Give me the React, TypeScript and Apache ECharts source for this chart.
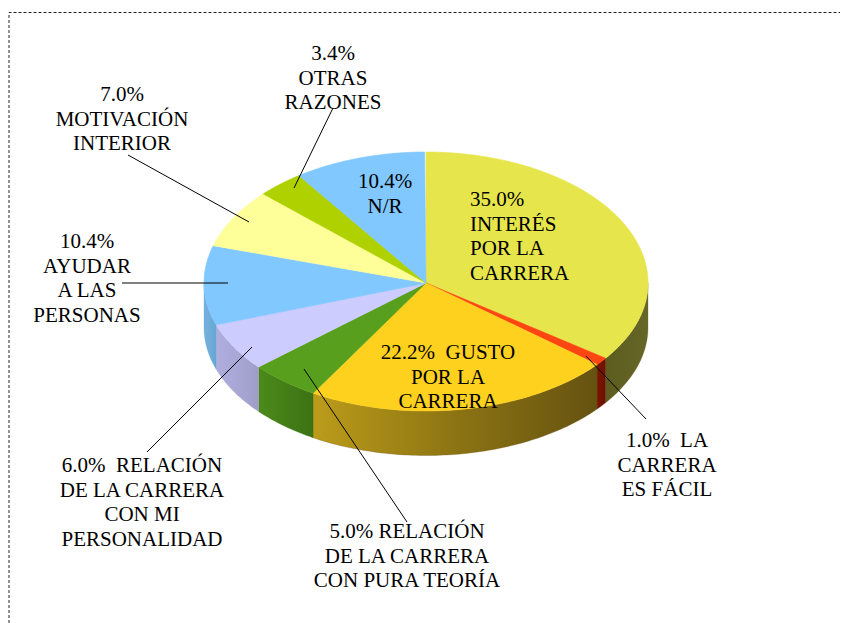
import React, { useEffect, useRef } from "react";
import * as echarts from "echarts";

const categories = [
  "INTERÉS POR LA CARRERA",
  "LA CARRERA ES FÁCIL",
  "GUSTO POR LA CARRERA",
  "RELACIÓN DE LA CARRERA CON PURA TEORÍA",
  "RELACIÓN DE LA CARRERA CON MI PERSONALIDAD",
  "AYUDAR A LAS PERSONAS",
  "MOTIVACIÓN INTERIOR",
  "OTRAS RAZONES",
  "N/R",
];
// Percentages as printed on the labels (they add up to 100.4).
const printedValues = [35.0, 1.0, 22.2, 5.0, 6.0, 10.4, 7.0, 3.4, 10.4];
// Share of the circle each slice covers, as measured on the picture (adds up to 100).
const sliceShares = [35.0, 1.0, 22.5, 5.1, 6.1, 9.9, 7.3, 3.4, 9.6];
const topColors = ["#E6E64C", "#FF4612", "#FFD11F", "#579F1D", "#CCCCFF", "#80C8FF", "#FFFF99", "#AFD100", "#80C8FF"];
const sideColors = [
  ["#5C5C1E", "#666628"],
  ["#7A1500", "#6A1200"],
  ["#BC9C1A", "#8C7413", "#655210"],
  ["#4C8A1A", "#3C7214"],
  ["#B0AEE0", "#A09EC8"],
  ["#74B2E0", "#68A6D2"],
  ["#CCCC7A", "#CCCC7A"],
  ["#8CA700", "#8CA700"],
  ["#66A0CC", "#66A0CC"],
];

// Text around the percentage: first line suffix, then the other lines.
const labelFirst = ["", "  LA", "  GUSTO", " RELACIÓN", "  RELACIÓN", "", "", "", ""];
const labelRest = [
  ["INTERÉS", "POR LA", "CARRERA"],
  ["CARRERA", "ES FÁCIL"],
  ["POR LA", "CARRERA"],
  ["DE LA CARRERA", "CON PURA TEORÍA"],
  ["DE LA CARRERA", "CON MI", "PERSONALIDAD"],
  ["AYUDAR", "A LAS", "PERSONAS"],
  ["MOTIVACIÓN", "INTERIOR"],
  ["OTRAS", "RAZONES"],
  ["N/R"],
];
const labelAnchors: [number, number, string][] = [
  [470, 199, "left"],
  [667, 440, "center"],
  [448, 352, "center"],
  [407, 531, "center"],
  [142, 465, "center"],
  [87, 241, "center"],
  [122, 94, "center"],
  [333, 53, "center"],
  [385, 181, "center"],
];
const leaderLines = [
  [586, 356, 646, 419],
  [304, 369, 407, 522],
  [252, 347, 147, 452],
  [122, 283, 228, 283],
  [128, 155, 249, 222],
  [333, 108, 294, 188],
];

const CX = 426;
const CY = 283;
const RX = 222;
const RY_BACK = 131;
const RY_FRONT = 128;
const DEPTH = 44.5;
const LINE_H = 24.7;
const FONT = "'Liberation Serif', 'Times New Roman', serif";
const DEG = Math.PI / 180;

const boundaries: number[] = [0];
sliceShares.forEach((v) => boundaries.push(boundaries[boundaries.length - 1] + v));
const pct2deg = (p: number) => Math.min(360, p * 3.6);

const pt = (deg: number, dy = 0): [number, number] => {
  const c = Math.cos(deg * DEG);
  return [CX + RX * Math.sin(deg * DEG), CY - (c >= 0 ? RY_BACK : RY_FRONT) * c + dy];
};

function arcPts(a0: number, a1: number, dy = 0) {
  const n = Math.max(2, Math.ceil(a1 - a0));
  const out: [number, number][] = [];
  for (let i = 0; i <= n; i++) out.push(pt(a0 + ((a1 - a0) * i) / n, dy));
  return out;
}

function renderTop(params: any) {
  const i = params.dataIndex;
  const a0 = pct2deg(boundaries[i]);
  const a1 = pct2deg(boundaries[i + 1]);
  return {
    type: "polygon",
    shape: { points: [[CX, CY], ...arcPts(a0, a1)] },
    style: { fill: topColors[i], stroke: topColors[i], lineWidth: 0.6 },
  };
}

function renderSide(params: any) {
  const i = params.dataIndex;
  const a0 = Math.max(90, pct2deg(boundaries[i]));
  const a1 = Math.min(270, pct2deg(boundaries[i + 1]));
  if (a1 <= a0) return null;
  const cs = sideColors[i];
  const fill = new echarts.graphic.LinearGradient(
    0, 0, 1, 0,
    cs.map((color, k) => ({ offset: k / (cs.length - 1), color }))
  );
  return {
    type: "polygon",
    shape: { points: [...arcPts(a0, a1), ...arcPts(a0, a1, DEPTH).reverse()] },
    style: { fill, stroke: cs[cs.length - 1], lineWidth: 0.3 },
  };
}

export default function App() {
  const ref = useRef<HTMLDivElement>(null);
  useEffect(() => {
    document.body.style.margin = "0";
    const chart = echarts.init(ref.current!, undefined, { renderer: "svg" });
    const texts: any[] = [];
    printedValues.forEach((v, i) => {
      const [x, y, align] = labelAnchors[i];
      const all = [`${v.toFixed(1)}%${labelFirst[i]}`, ...labelRest[i]];
      all.forEach((t, k) => {
        texts.push({
          type: "text",
          z: 100,
          x,
          y: y + k * LINE_H,
          style: {
            text: t,
            fill: "#000",
            font: `21px ${FONT}`,
            align,
            verticalAlign: "middle",
          },
        });
      });
    });
    const lines = leaderLines.map(([x1, y1, x2, y2]) => ({
      type: "line",
      z: 90,
      shape: { x1, y1, x2, y2 },
      style: { stroke: "#000", lineWidth: 1 },
    }));
    chart.setOption({
      animation: false,
      backgroundColor: "#fff",
      graphic: [
        {
          type: "polyline",
          z: 1,
          shape: { points: [[9, 623], [9, 12.5], [840, 12.5]] },
          style: { stroke: "#222", lineWidth: 1, lineDash: [3, 2], fill: "none" },
        },
        ...lines,
        ...texts,
      ],
      series: [
        {
          type: "custom",
          coordinateSystem: "none",
          z: 2,
          silent: true,
          renderItem: renderSide,
          data: sliceShares.map((value, i) => ({ name: categories[i], value })),
        },
        {
          type: "custom",
          coordinateSystem: "none",
          z: 3,
          silent: true,
          renderItem: renderTop,
          data: sliceShares.map((value, i) => ({ name: categories[i], value })),
        },
      ],
    });
    return () => chart.dispose();
  }, []);
  return <div ref={ref} style={{ width: 841, height: 623 }} />;
}
